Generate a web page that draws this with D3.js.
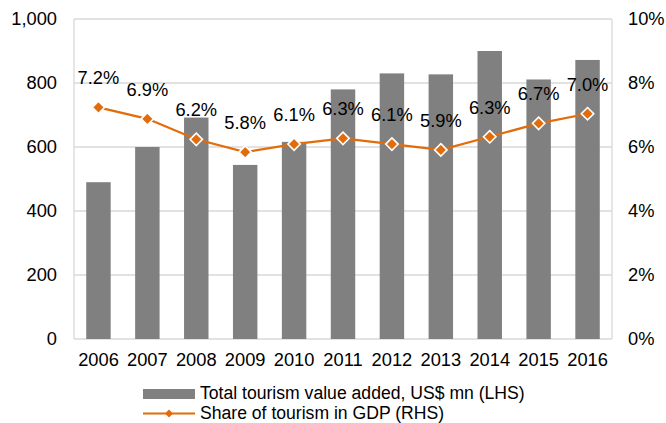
<!DOCTYPE html>
<html><head><meta charset="utf-8">
<script src="https://cdn.jsdelivr.net/npm/d3@7/dist/d3.min.js"></script>
<style>
html,body{margin:0;padding:0;background:#fff;}
text{font-family:"Liberation Sans",Arial,sans-serif;fill:#000;}
</style></head>
<body>
<svg id="c" width="666" height="423"></svg>
<script>
const years = ["2006","2007","2008","2009","2010","2011","2012","2013","2014","2015","2016"];
const valueAdded = [490, 600, 692, 544, 616, 780, 830, 827, 900, 811, 872];
const gdpShare = [7.24, 6.88, 6.24, 5.84, 6.09, 6.27, 6.09, 5.91, 6.32, 6.74, 7.04];
const leftTicks = [0, 200, 400, 600, 800, 1000];
const rightTicks = [0, 2, 4, 6, 8, 10];
const legendLabels = ["Total tourism value added, US$ mn (LHS)", "Share of tourism in GDP (RHS)"];

const barColor = "#808080", lineColor = "#E36C0A", gridColor = "#d9d9d9";
const fs = "18.3px", legFs = "17.6px";
const m = {left:74, right:612, top:19, bottom:339};
const svg = d3.select("#c");

const x = d3.scaleBand().domain(years).range([m.left, m.right]).paddingInner(0.5).paddingOuter(0.25);
const yL = d3.scaleLinear().domain([0, 1000]).range([m.bottom, m.top]);
const yR = d3.scaleLinear().domain([0, 10]).range([m.bottom, m.top]);

// gridlines
svg.append("g").selectAll("line").data(leftTicks).join("line")
  .attr("x1", m.left).attr("x2", m.right)
  .attr("y1", d => yL(d)).attr("y2", d => yL(d))
  .attr("stroke", gridColor).attr("stroke-width", 1.3);
svg.append("line").attr("x1", m.left).attr("x2", m.left).attr("y1", m.top).attr("y2", m.bottom).attr("stroke", gridColor).attr("stroke-width", 1.3);
svg.append("line").attr("x1", m.right).attr("x2", m.right).attr("y1", m.top).attr("y2", m.bottom).attr("stroke", gridColor).attr("stroke-width", 1.3);

// bars
svg.append("g").selectAll("rect").data(years).join("rect")
  .attr("x", d => x(d)).attr("width", x.bandwidth())
  .attr("y", (d,i) => yL(valueAdded[i])).attr("height", (d,i) => yL(0) - yL(valueAdded[i]))
  .attr("fill", barColor);

// axes
const axL = d3.axisLeft(yL).tickValues(leftTicks).tickSize(0).tickPadding(17).tickFormat(d3.format(","));
const gL = svg.append("g").attr("transform", `translate(${m.left},0)`).call(axL);
const axR = d3.axisRight(yR).tickValues(rightTicks).tickSize(0).tickPadding(16).tickFormat(d => d + "%");
const gR = svg.append("g").attr("transform", `translate(${m.right},0)`).call(axR);
const axB = d3.axisBottom(x).tickSize(0).tickPadding(14);
const gB = svg.append("g").attr("transform", `translate(0,${m.bottom})`).call(axB);
[gL, gR, gB].forEach(g => {
  g.select(".domain").remove();
  g.selectAll("text").style("font-size", fs).attr("fill", "#000");
});

// line
const cx = d => x(d) + x.bandwidth() / 2;
const line = d3.line().x((d,i) => cx(years[i])).y(d => yR(d));
svg.append("path").datum(gdpShare).attr("d", line)
  .attr("fill", "none").attr("stroke", lineColor).attr("stroke-width", 2.2);

const diamond = r => `M0,${-r}L${r},0L0,${r}L${-r},0Z`;
svg.append("g").selectAll("path").data(gdpShare).join("path")
  .attr("transform", (d,i) => `translate(${cx(years[i])},${yR(d)})`)
  .attr("d", diamond(6.2))
  .attr("fill", lineColor).attr("stroke", "#fff").attr("stroke-width", 1.6);

// data labels
const fmt = d3.format(".1f");
svg.append("g").selectAll("text").data(gdpShare).join("text")
  .attr("x", (d,i) => cx(years[i])).attr("y", d => yR(d) - 23)
  .attr("text-anchor", "middle").style("font-size", fs)
  .text(d => fmt(d) + "%");

// legend
const lg = svg.append("g");
lg.append("rect").attr("x", 143).attr("y", 389).attr("width", 52).attr("height", 10).attr("fill", barColor);
lg.append("text").attr("x", 200).attr("y", 392.5).attr("dy", "0.35em").style("font-size", legFs).text(legendLabels[0]);
lg.append("line").attr("x1", 143).attr("x2", 195).attr("y1", 413.5).attr("y2", 413.5).attr("stroke", lineColor).attr("stroke-width", 2);
lg.append("path").attr("transform", "translate(169,413.5)").attr("d", diamond(4)).attr("fill", lineColor);
lg.append("text").attr("x", 200).attr("y", 413).attr("dy", "0.35em").style("font-size", legFs).text(legendLabels[1]);
</script>
</body></html>
